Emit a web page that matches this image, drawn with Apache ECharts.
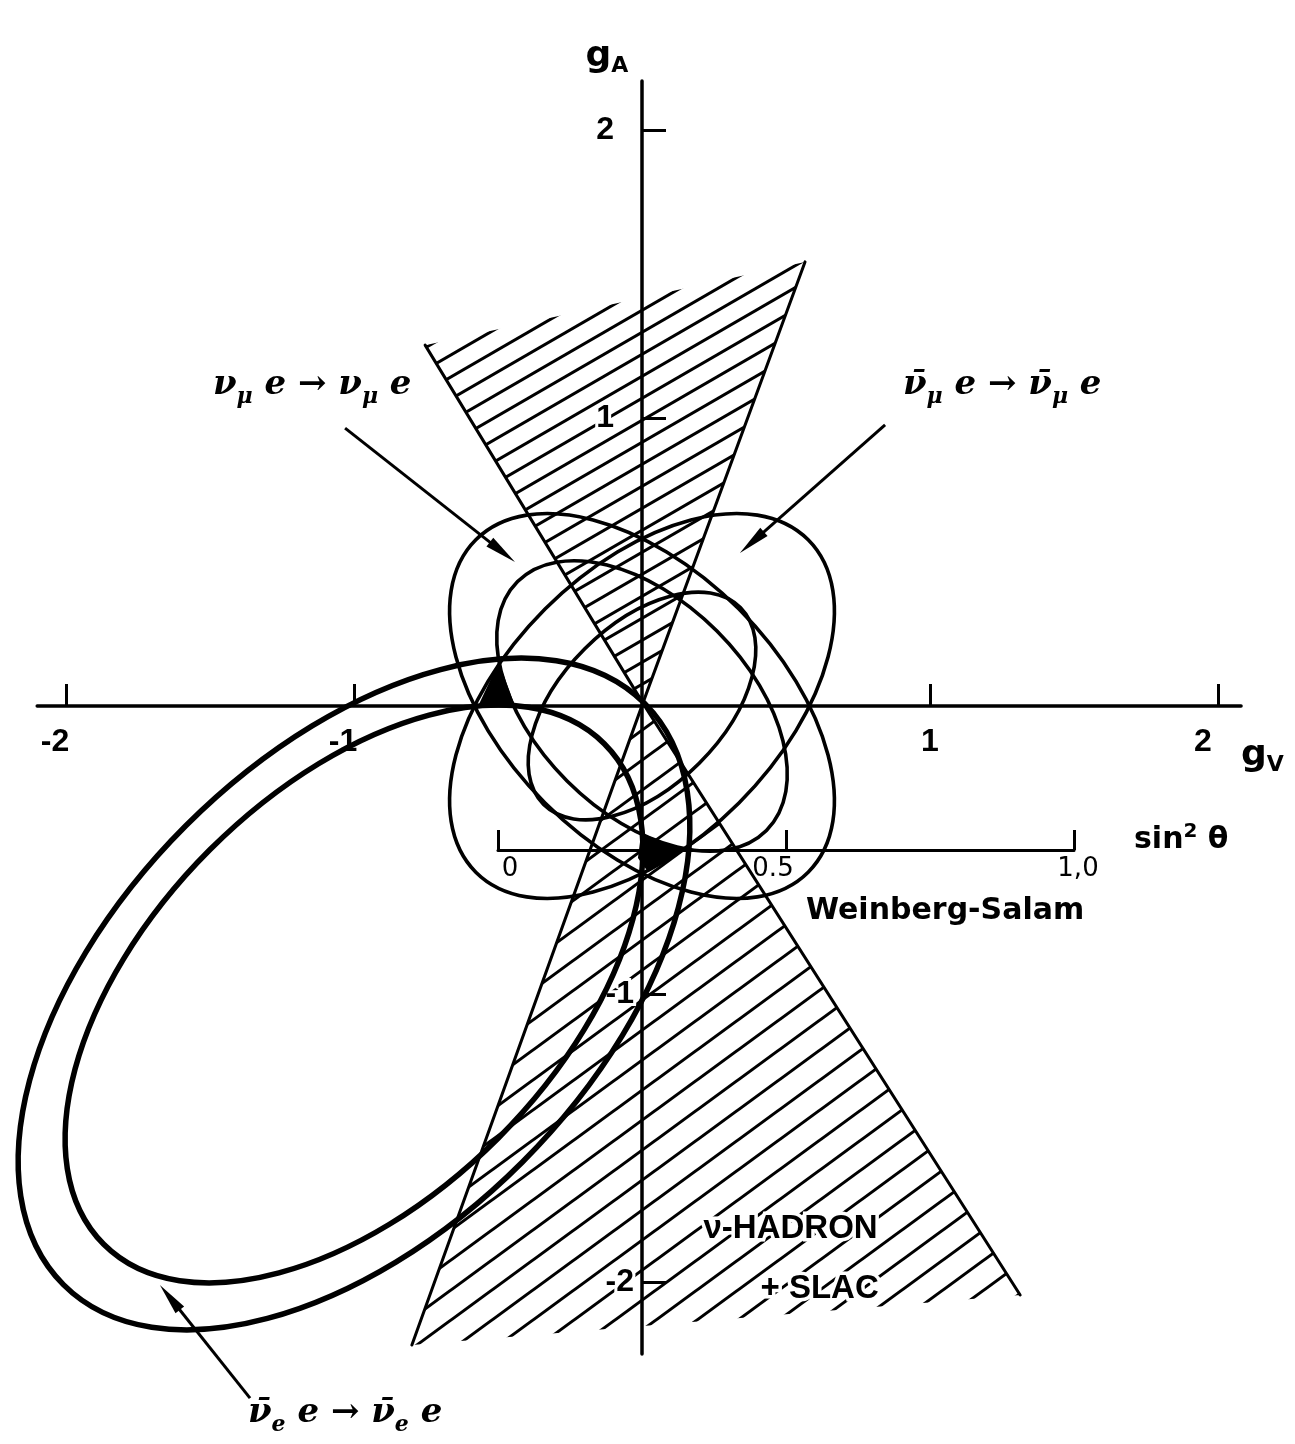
<!DOCTYPE html>
<html>
<head>
<meta charset="utf-8">
<title>Neutral-current couplings g_V, g_A</title>
<script src="https://cdn.jsdelivr.net/npm/echarts@6/dist/echarts.min.js"></script>
<style>
  html, body { margin: 0; padding: 0; background: #fff; }
  #chart { width: 1295px; height: 1444px; }
</style>
</head>
<body>
<div id="chart"></div>
<script>
// ---- data -------------------------------------------------------------
// tick values on the g_V and g_A axes
const gVTicks = [-2, -1, 1, 2];
const gATicks = [-2, -1, 1, 2];
// sin²θ scale laid along the Weinberg–Salam line
const sin2Ticks = [0, 0.5, 1];
// Weinberg–Salam line: g_V range covered by sin²θ = 0 … 1, at fixed g_A
const wsGV = [-0.5, 1.5];
const wsGA = -0.5;

// allowed bands, each ellipse: [centre g_V, centre g_A, semi-major, semi-minor, major-axis angle (deg)]
const numuBand    = [[0, 0, 0.816, 0.476, 135], [0, 0, 0.611, 0.368, 135]];
const numubarBand = [[0, 0, 0.816, 0.476, 45],  [0, 0, 0.483, 0.281, 45]];
const nuebarBand  = [[-1.0, -1.0, 1.427, 0.826, 45], [-1.0, -1.0, 1.229, 0.708, 45]];

// ν-hadron + SLAC allowed double cone (upper and lower halves meet at the apex)
const hadronUpper = [[-0.753, 1.253], [0.566, 1.542], [0.003, 0.010]];
const hadronLower = [[0.003, 0.010], [1.313, -2.045], [-0.799, -2.219]];

// regions common to all bands (filled black)
const solutionA = [[-0.569, 0], [-0.441, 0], [-0.497, 0.153]];
const solutionB = [[-0.003, -0.441], [0.142, -0.500], [0.021, -0.576], [-0.014, -0.528]];

// label pointers: [from g_V, from g_A, to g_V, to g_A]
const pointers = [
  [-1.031, 0.965, -0.441, 0.500],
  [0.844, 0.976, 0.340, 0.531],
  [-1.361, -2.403, -1.674, -2.010]
];

// ---- layout -----------------------------------------------------------
const UNIT = 288;              // pixels per unit of g
const ORIGIN = [642, 706];     // pixel position of g_V = g_A = 0
const X_MIN = -2.1, X_MAX = 2.08, Y_MIN = -2.25, Y_MAX = 2.17;

const INK = '#000';
const LSANS = '"Liberation Sans", Arial, sans-serif';
const SERIF = '"DejaVu Serif", serif';
const SANS = '"DejaVu Sans", sans-serif';

// diagonal hatching tile
function hatchPattern(w, h, lw) {
  const c = document.createElement('canvas');
  c.width = w; c.height = h;
  const g = c.getContext('2d');
  g.strokeStyle = INK; g.lineWidth = lw; g.lineCap = 'butt';
  for (let k = -1; k <= 1; k++) {
    g.beginPath();
    g.moveTo(-w, (k + 2) * h);
    g.lineTo(2 * w, (k - 1) * h);
    g.stroke();
  }
  return { image: c, repeat: 'repeat' };
}

function polygonSeries(points, fill, z) {
  return {
    type: 'custom', coordinateSystem: 'cartesian2d', xAxisIndex: 0, yAxisIndex: 0,
    data: points, encode: { x: 0, y: 1 }, clip: false, silent: true, z: z,
    renderItem: function (params, api) {
      if (params.dataIndex !== 0) return null;
      return {
        type: 'polygon',
        shape: { points: points.map(function (p) { return api.coord(p); }) },
        style: { fill: fill, stroke: 'none' }
      };
    }
  };
}

function ellipseSeries(items, width) {
  return {
    type: 'custom', coordinateSystem: 'cartesian2d', xAxisIndex: 0, yAxisIndex: 0,
    data: items, encode: { x: 0, y: 1 }, clip: false, silent: true, z: 4,
    renderItem: function (params, api) {
      const c = api.coord([api.value(0), api.value(1)]);
      const k = api.size([1, 1]);
      return {
        type: 'ellipse',
        x: c[0], y: c[1],
        rotation: api.value(4) * Math.PI / 180,
        shape: { cx: 0, cy: 0, rx: api.value(2) * k[0], ry: api.value(3) * k[1] },
        style: { fill: 'none', stroke: INK, lineWidth: width }
      };
    }
  };
}

function lineSeries(points, width) {
  return {
    type: 'line', xAxisIndex: 0, yAxisIndex: 0, data: points,
    showSymbol: false, symbol: 'none', clip: false, silent: true, z: 3,
    lineStyle: { color: INK, width: width, cap: 'round' }
  };
}

const apex = hadronUpper[2];

function sub(size, family, style, weight) {
  return { fontSize: size, fontFamily: family, fontStyle: style || 'normal', fontWeight: weight || 'normal',
           verticalAlign: 'bottom', lineHeight: size + 2, color: INK };
}

function label(x, y, text, font, rich, extra) {
  return {
    type: 'text', left: x, top: y, z: 5, silent: true,
    style: Object.assign({ text: text, font: font, fill: INK, lineHeight: 46, rich: rich || {} }, extra || {})
  };
}

// tick-label nudges (hand-lettered labels sit slightly off their ticks)
const tickLabelRich = {
  base: { fontFamily: LSANS, fontWeight: 'bold', fontSize: 32, color: INK },
  shiftL: { fontFamily: LSANS, fontWeight: 'bold', fontSize: 32, color: INK, padding: [0, 22, 0, 0] },
  shiftL2: { fontFamily: LSANS, fontWeight: 'bold', fontSize: 32, color: INK, padding: [0, 30, 0, 0] },
  yPos: { fontFamily: LSANS, fontWeight: 'bold', fontSize: 32, color: INK, padding: [0, 20, 0, 0] }
};

const mainGrid = {
  left: ORIGIN[0] + X_MIN * UNIT, top: ORIGIN[1] - Y_MAX * UNIT,
  width: (X_MAX - X_MIN) * UNIT, height: (Y_MAX - Y_MIN) * UNIT
};

const option = {
  backgroundColor: '#fff',
  animation: false,
  grid: [
    mainGrid,
    // Weinberg–Salam scale
    { left: ORIGIN[0] + wsGV[0] * UNIT, top: ORIGIN[1] - wsGA * UNIT - 1,
      width: (wsGV[1] - wsGV[0]) * UNIT, height: 1 },
    // g_V axis runs through g_A = 0
    { left: mainGrid.left, width: mainGrid.width, top: ORIGIN[1] - 1, height: 1 },
    // g_A axis runs through g_V = 0
    { left: ORIGIN[0], width: 1, top: mainGrid.top, height: mainGrid.height }
  ],
  xAxis: [
    { gridIndex: 0, type: 'value', min: X_MIN, max: X_MAX, show: false },
    {
      gridIndex: 1, type: 'value', min: 0, max: 1, z: 3,
      axisLine: { lineStyle: { color: INK, width: 3 } },
      axisTick: { inside: true, length: 20, lineStyle: { color: INK, width: 3 }, customValues: sin2Ticks },
      axisLabel: {
        customValues: sin2Ticks, margin: 6, color: INK,
        formatter: function (v) {
          if (v === 0) return '{r|0}';
          if (v === 1) return '{n|1,0}';
          return '{l|0.5}';
        },
        rich: {
          r: { fontFamily: SANS, fontSize: 26, color: INK, padding: [0, 0, 0, 24] },
          l: { fontFamily: SANS, fontSize: 26, color: INK, padding: [0, 26, 0, 0] },
          n: { fontFamily: SANS, fontSize: 26, color: INK, padding: [0, 0, 0, 8] }
        }
      },
      splitLine: { show: false },
      name: 'sin{p|2} θ', nameLocation: 'end', nameGap: 60,
      nameTextStyle: {
        fontFamily: SANS, fontWeight: 'bold', fontSize: 30, color: INK, lineHeight: 36,
        padding: [0, 0, 20, 0],
        rich: { p: { fontSize: 20, fontFamily: SANS, fontWeight: 'bold', verticalAlign: 'top', lineHeight: 22 } }
      }
    },
    {
      gridIndex: 2, type: 'value', min: X_MIN, max: X_MAX, z: 2, position: 'bottom',
      axisLine: { onZero: false, lineStyle: { color: INK, width: 3.5 } },
      axisTick: { inside: true, length: 22, lineStyle: { color: INK, width: 3 }, customValues: gVTicks },
      axisLabel: {
        customValues: gVTicks, margin: 20, color: INK, rich: tickLabelRich,
        formatter: function (v) {
          if (v === 2) return '{shiftL2|2}';
          if (v < 0) return '{shiftL|' + v + '}';
          return '{base|' + v + '}';
        }
      },
      splitLine: { show: false },
      name: 'g{s|V}', nameLocation: 'end', nameGap: 0,
      nameTextStyle: {
        fontFamily: SANS, fontWeight: 'bold', fontSize: 36, color: INK, lineHeight: 40,
        padding: [100, 0, 0, 0],
        rich: { s: sub(22, SANS, 'normal', 'bold') }
      }
    },
    { gridIndex: 3, type: 'value', min: 0, max: 1, show: false }
  ],
  yAxis: [
    { gridIndex: 0, type: 'value', min: Y_MIN, max: Y_MAX, show: false },
    { gridIndex: 1, type: 'value', min: 0, max: 1, show: false },
    { gridIndex: 2, type: 'value', min: 0, max: 1, show: false },
    {
      gridIndex: 3, type: 'value', min: Y_MIN, max: Y_MAX, z: 2, position: 'left',
      axisLine: { onZero: false, lineStyle: { color: INK, width: 3.5 } },
      axisTick: { inside: true, length: 24, lineStyle: { color: INK, width: 3 }, customValues: gATicks },
      axisLabel: {
        customValues: gATicks, margin: 8, color: INK, rich: tickLabelRich,
        textBorderColor: '#fff', textBorderWidth: 6,
        formatter: function (v) { return v > 0 ? '{yPos|' + v + '}' : '{base|' + v + '}'; }
      },
      splitLine: { show: false },
      name: 'g{s|A}', nameLocation: 'end', nameGap: 4,
      nameTextStyle: {
        fontFamily: SANS, fontWeight: 'bold', fontSize: 36, color: INK, lineHeight: 40,
        padding: [0, 70, 0, 0],
        rich: { s: sub(22, SANS, 'normal', 'bold') }
      }
    }
  ],
  series: [
    polygonSeries(hadronUpper, hatchPattern(38, 22, 3), 1),
    polygonSeries(hadronLower, hatchPattern(41, 30, 3), 1),
    lineSeries([hadronUpper[0], apex, hadronLower[1]], 3),
    lineSeries([hadronUpper[1], apex, hadronLower[2]], 3),
    ellipseSeries(numuBand, 3.6),
    ellipseSeries(numubarBand, 3.6),
    ellipseSeries(nuebarBand, 5.5),
    polygonSeries(solutionA, INK, 5),
    polygonSeries(solutionB, INK, 5),
    {
      type: 'custom', coordinateSystem: 'cartesian2d', xAxisIndex: 0, yAxisIndex: 0,
      data: pointers, encode: { x: [0, 2], y: [1, 3] }, clip: false, silent: true, z: 5,
      renderItem: function (params, api) {
        const p0 = api.coord([api.value(0), api.value(1)]);
        const p1 = api.coord([api.value(2), api.value(3)]);
        const dx = p1[0] - p0[0], dy = p1[1] - p0[1];
        const len = Math.sqrt(dx * dx + dy * dy);
        const ux = dx / len, uy = dy / len;
        const hl = 32, hw = 11;
        const bx = p1[0] - ux * hl, by = p1[1] - uy * hl;
        return {
          type: 'group',
          children: [
            { type: 'line', shape: { x1: p0[0], y1: p0[1], x2: bx + ux * 6, y2: by + uy * 6 },
              style: { stroke: INK, lineWidth: 3 } },
            { type: 'polygon',
              shape: { points: [p1, [bx - uy * hw / 2, by + ux * hw / 2], [bx + uy * hw / 2, by - ux * hw / 2]] },
              style: { fill: INK } }
          ]
        };
      }
    }
  ],
  graphic: [
    label(213, 362, 'ν{s|μ} e → ν{s|μ} e', 'italic bold 34px ' + SERIF,
          { s: sub(22, SERIF, 'italic', 'bold') }),
    label(903, 362, 'ν\u0304{s|μ} e → ν\u0304{s|μ} e', 'italic bold 34px ' + SERIF,
          { s: sub(22, SERIF, 'italic', 'bold') }),
    label(248, 1390, 'ν\u0304{s|e} e → ν\u0304{s|e} e', 'italic bold 34px ' + SERIF,
          { s: sub(22, SERIF, 'italic', 'bold') }),
    label(806, 888, 'Weinberg-Salam', 'bold 30px ' + SANS),
    label(700, 1206, 'ν-HADRON', 'bold 33px ' + LSANS, null,
          { stroke: '#fff', lineWidth: 7, strokeFirst: true }),
    label(757, 1266, '+ SLAC', 'bold 33px ' + LSANS, null,
          { stroke: '#fff', lineWidth: 7, strokeFirst: true })
  ]
};

const chart = echarts.init(document.getElementById('chart'), null, { renderer: 'canvas' });
chart.setOption(option);
</script>
</body>
</html>
